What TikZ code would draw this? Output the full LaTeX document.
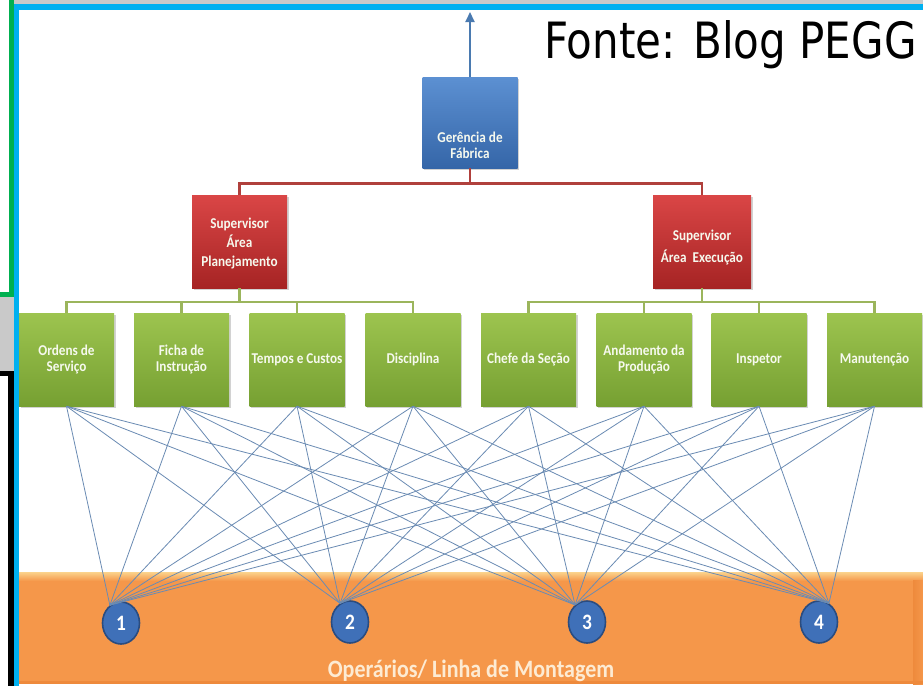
\documentclass[tikz,border=0pt]{standalone}
\usepackage{fontspec}
\setmainfont{Carlito}
\newfontfamily\boxfont[FakeStretch=0.88]{Carlito}
\newfontfamily\srcfont[FakeStretch=0.84]{DejaVu Sans}
\usetikzlibrary{shapes.geometric,shadows,arrows.meta}

\definecolor{frameblue}{HTML}{00B0F0}
\definecolor{framegreen}{HTML}{00B050}
\definecolor{framegrey}{HTML}{C9C9C9}
\definecolor{boxblueT}{HTML}{5C90D2}
\definecolor{boxblueB}{HTML}{3566A8}
\definecolor{boxredT}{HTML}{DA4646}
\definecolor{boxredB}{HTML}{A62424}
\definecolor{boxgreenT}{HTML}{9DC44F}
\definecolor{boxgreenB}{HTML}{76A032}
\definecolor{linkred}{HTML}{B0403C}
\definecolor{linkgreen}{HTML}{9BB55C}
\definecolor{linkblue}{HTML}{4A7AB0}
\definecolor{fanline}{HTML}{6A8BB3}
\definecolor{bandorange}{HTML}{F5974A}
\definecolor{bandlight}{HTML}{FBD38C}
\definecolor{banddark}{HTML}{EE8A3C}
\definecolor{dotblue}{HTML}{3F70B8}
\definecolor{dotedge}{HTML}{2A4C80}
\definecolor{labelwhite}{HTML}{F6F9EE}
\definecolor{bandtext}{HTML}{FDEBD3}

\tikzset{
  unit/.style={rectangle, minimum width=95pt, minimum height=93pt, inner sep=0pt,
    drop shadow={opacity=0.35, shadow xshift=1.5pt, shadow yshift=-1.5pt}},
  bluebox/.style={unit, top color=boxblueT, bottom color=boxblueB, minimum height=91pt},
  redbox/.style={unit, top color=boxredT, bottom color=boxredB},
  greenbox/.style={unit, top color=boxgreenT, bottom color=boxgreenB,
    align=center, text=labelwhite, font=\boxfont\bfseries\fontsize{15}{16}\selectfont},
  lbl/.style={align=center, inner sep=0pt, text=labelwhite,
    font=\boxfont\bfseries\fontsize{15}{16}\selectfont},
  redlink/.style={draw=linkred, line width=2.6pt},
  greenlink/.style={draw=linkgreen, line width=2.2pt},
  uplink/.style={draw=linkblue, line width=2pt, -{Triangle[width=9pt,length=10pt]}},
  fan/.style={draw=fanline, line width=0.8pt},
  dot/.style={ellipse, minimum width=37pt, minimum height=42pt, inner sep=0pt,
    fill=dotblue, draw=dotedge, line width=1.6pt, text=white,
    font=\boxfont\bfseries\fontsize{22}{24}\selectfont}
}

\begin{document}
\begin{tikzpicture}[x=1pt, y=-1pt]
\useasboundingbox (0,0) rectangle (923,686);
\fill[white] (0,0) rectangle (923,686);

% frame around the slide
\fill[framegrey] (14,0) rectangle (923,4);
\fill[framegreen] (9,0) rectangle (14,297);
\fill[framegreen] (0,292) rectangle (14,297);
\fill[framegrey] (0,297) rectangle (14,371);
\fill[black] (0,371) rectangle (14,376);
\fill[black] (8,376) rectangle (14,686);
\fill[frameblue] (14,4) rectangle (19,686);
\fill[frameblue] (14,4) rectangle (923,10);

% assembly line band
\fill[bandorange] (19,572) rectangle (923,684);
\shade[top color=bandlight, bottom color=bandorange] (19,572) rectangle (923,581);
\shade[left color=banddark, right color=bandorange] (913,580) rectangle (923,684);
\fill[banddark] (19,681) rectangle (923,684);
\node[anchor=base, inner sep=0pt, text=bandtext,
  font=\boxfont\bfseries\fontsize{25}{28}\selectfont] (bandlabel) at (471,677)
  {Operários/ Linha de Montagem};

% source note
\node[anchor=base west, inner sep=0pt, font=\srcfont\fontsize{50}{60}\selectfont]
  (src) at (544,58) {Fonte: Blog PEGG};

% management
\node[bluebox] (ger) at (470,122.5) {};
\node[lbl] (gerlabel) at (470,145) {Gerência de\\Fábrica};
\coordinate (topend) at (470,12);
\draw[uplink] (ger.north) -- (topend);

% supervisors
\node[redbox] (supL) at (239.5,241.5) {};
\node[lbl, font=\boxfont\bfseries\fontsize{15}{19}\selectfont] (supLlabel) at (239.5,243)
  {Supervisor\\Área\\Planejamento};
\node[redbox, minimum width=98pt] (supR) at (702,241.5) {};
\node[lbl, font=\boxfont\bfseries\fontsize{15}{22}\selectfont] (supRlabel) at (702,247)
  {Supervisor\\Área\ \ Execução};

\draw[redlink] (ger.south) -- ++(0,15) -| (supL.north);
\draw[redlink] (ger.south) -- ++(0,15) -| (supR.north);

% functions
\node[greenbox] (g1) at (66.5,359.5) {Ordens de\\Serviço};
\node[greenbox] (g2) at (181.5,359.5) {Ficha de\\Instrução};
\node[greenbox] (g3) at (297,359.5) {Tempos e Custos};
\node[greenbox] (g4) at (413,359.5) {Disciplina};
\node[greenbox] (g5) at (528.5,359.5) {Chefe da Seção};
\node[greenbox] (g6) at (644,359.5) {Andamento da\\Produção};
\node[greenbox] (g7) at (759,359.5) {Inspetor};
\node[greenbox] (g8) at (874.5,359.5) {Manutenção};

\foreach \i in {1,...,4}
  \draw[greenlink] (supL.south) -- ++(0,14) -| (g\i.north);
\foreach \i in {5,...,8}
  \draw[greenlink] (supR.south) -- ++(0,14) -| (g\i.north);

% workers
\node[dot] (c1) at (121,623) {1};
\node[dot] (c2) at (350,622) {2};
\node[dot] (c3) at (587,622) {3};
\node[dot] (c4) at (819,622) {4};

% every function reaches every worker
\foreach \i in {1,...,8}
  \foreach \c/\a in {1/122,2/118,3/125,4/62}
    \draw[fan] (g\i.south) -- (c\c.\a);
\end{tikzpicture}
\end{document}
